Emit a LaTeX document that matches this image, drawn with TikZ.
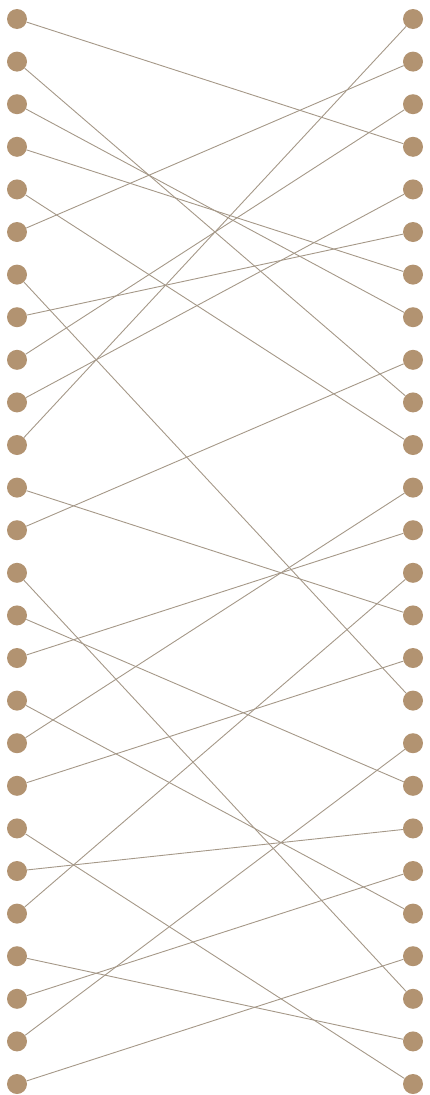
\documentclass[tikz,border=0pt]{standalone}
\usepackage{tikz}
\usetikzlibrary{positioning}
\definecolor{beadtan}{RGB}{178,147,113}
\definecolor{linkgray}{RGB}{165,152,136}
\tikzset{
	bead/.style={circle, fill=beadtan, inner sep=0pt, minimum size=20pt}
}
\tikzset{
	link/.style={draw=linkgray, line width=0.9pt}
}

\begin{document}
\begin{tikzpicture}[x=1pt,y=-1pt]
      \useasboundingbox (0,0) rectangle (429,1095);
      \foreach \i in {0,...,25} {
        \node[bead] (l\i) at (17,19+42.6*\i) {};
        \node[bead] (r\i) at (413,19+42.6*\i) {};
      }
      \foreach \a/\b in {0/3, 1/9, 2/7, 3/6, 4/10, 5/1, 6/16, 7/5, 8/2, 9/4,
                         10/0, 11/14, 12/8, 13/23, 14/18, 15/12, 16/21, 17/11,
                         18/15, 19/25, 20/19, 21/13, 22/24, 23/20, 24/17, 25/22}
        \draw[link] (l\a) -- (r\b);
    \end{tikzpicture}
\end{document}
